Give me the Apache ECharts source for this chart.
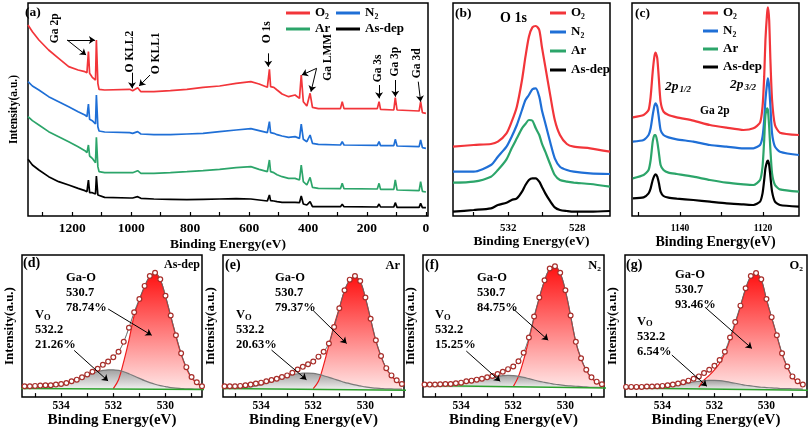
<!DOCTYPE html>
<html><head><meta charset="utf-8">
<script src="https://cdn.jsdelivr.net/npm/echarts@6/dist/echarts.min.js"></script>
<style>html,body{margin:0;padding:0;background:#fff}#c{width:808px;height:429px}</style>
</head><body><div id="c"></div>
<script>
// ---------- DATA ----------
const sampleNames = ['O₂','N₂','Ar','As-dep'];
// (a) survey spectra
const surveyBE = [1350,1335,1313,1280,1246,1212,1180,1157,1150,1145,1141,1132,1126,1121,1118,1113,1109,1090,1005,1000,995,978,967,923,867,811,756,700,644,594,566,538,531,527,516,505,488,466,444,429,423,416,404,393,385,365,290,284,278,165,159,154,109,104,98,23,18,12,0];
const surveyO2 = [573,553,528,498,473,448,438,433,430,493,428,416,416,408,528,398,380,378,380,386,376,385,373,373,376,380,386,390,398,403,396,386,440,388,386,378,366,358,363,353,423,343,330,368,326,322,322,343,322,322,343,320,318,355,318,315,343,310,308];
const surveyN2 = [403,390,378,358,343,328,313,303,298,336,290,286,283,276,363,268,255,252,250,252,248,253,246,244,244,246,248,253,258,262,256,250,283,250,248,244,240,236,238,233,276,230,223,243,218,215,213,223,213,212,223,211,211,230,210,208,228,205,203];
const surveyAr = [298,286,273,253,238,223,208,196,190,213,180,173,168,160,236,148,133,130,130,133,130,136,128,128,130,133,136,140,145,148,140,133,168,133,130,124,118,113,113,108,153,103,93,116,86,83,82,98,82,81,98,80,80,108,78,76,103,74,72];
const surveyAsDep = [170,153,138,118,103,93,83,76,73,108,70,70,68,66,120,63,58,56,54,56,54,58,53,51,50,49,50,51,52,51,48,45,63,46,45,43,41,41,41,40,60,36,33,43,28,28,28,35,28,27,36,27,27,40,26,26,38,25,25];
const surveyTicks = [0,100,200,300,400,500,600,700,800,900,1000,1100,1200,1300];
const surveyLabels = [0,200,400,600,800,1000,1200];
// (b) O 1s
const o1sBE = [535.2,534.0,533.0,532.6,532.1,531.8,531.5,531.2,531.0,530.8,530.6,530.4,530.2,530.05,529.85,529.55,529.3,529.0,528.6,528.2,527.25,526.1];
const o1sO2 = [208,213,216,223,248,283,328,408,478,538,566,570,558,508,448,358,288,243,216,208,203,193];
const o1sN2 = [133,133,153,178,208,238,273,318,348,363,380,383,358,318,278,218,173,148,138,133,128,126];
const o1sAr = [100,103,118,138,170,203,233,263,276,288,286,263,243,218,193,153,123,108,103,100,96,88];
const o1sAsDep = [13,18,23,33,40,48,53,73,93,108,113,113,103,88,68,43,26,18,15,13,13,15];
const o1sTicks = [528,530,532,534];
const o1sLabels = [528,532];
// (c) Ga 2p
const ga2pBE = [1151.4,1148.8,1147.6,1147.1,1146.6,1146.2,1145.9,1145.5,1145.1,1144.7,1144.0,1142.8,1140.8,1136.8,1132.8,1128.8,1124.7,1122.3,1120.7,1120.1,1119.7,1119.4,1119.0,1118.8,1118.5,1118.2,1117.8,1117.1,1115.9,1111.3];
const ga2pO2 = [296,303,318,358,433,478,490,473,408,343,313,303,296,286,273,265,258,263,280,328,418,528,608,626,588,468,348,273,250,243];
const ga2pN2 = [223,228,243,263,303,330,338,328,293,258,243,236,230,223,213,208,203,203,213,238,288,348,398,413,388,328,248,208,193,183];
const ga2pAr = [113,123,138,168,223,243,243,223,188,153,138,130,126,118,108,100,95,93,108,148,228,303,323,318,268,198,128,93,80,73];
const ga2pAsDep = [53,56,68,83,108,121,125,118,98,73,60,55,52,48,43,38,35,33,43,68,108,143,163,166,153,118,73,43,33,28];
const ga2pTicks = [1120,1130,1140,1150];
const ga2pLabels = [1120,1140];
// (d)-(g) O 1s fits
const fitBE = [535.4,535.2,535.0,534.8,534.6,534.4,534.2,534.0,533.8,533.6,533.4,533.2,533.0,532.8,532.6,532.4,532.2,532.0,531.8,531.6,531.4,531.2,531.0,530.8,530.6,530.4,530.2,530.0,529.8,529.6,529.4,529.2,529.0,528.8,528.6];
const rawAsDep = [33,33,34,35,36,36,38,40,43,48,53,60,69,77,86,98,108,121,138,168,211,258,298,338,368,378,358,308,248,188,133,91,61,45,33];
const voAsDep  = [26,27,27,27,29,31,33,37,41,47,53,59,66,72,77,81,83,83,81,77,71,64,57,50,44,39,35,32,29,27,26,25,25,24,24];
const gaoAsDep = [null,null,null,null,null,null,null,null,null,null,null,null,null,null,null,null,null,26,53,108,173,248,295,335,365,375,356,305,245,185,130,88,58,43,32];
const rawAr = [33,33,33,34,36,38,41,44,48,52,56,61,66,74,84,92,100,108,123,138,163,213,270,325,357,368,353,303,238,173,125,88,66,51,40];
const voAr  = [26,27,27,28,29,31,34,38,42,47,53,58,64,68,71,73,73,72,69,65,60,55,50,45,41,37,34,31,29,27,26,25,25,24,24];
const gaoAr = [null,null,null,null,null,null,null,null,null,null,null,null,null,null,null,null,null,26,48,98,158,218,270,323,355,365,351,301,236,171,123,86,64,49,38];
const rawN2 = [38,38,38,39,40,40,42,44,48,50,53,56,60,64,70,77,85,93,109,135,181,245,303,355,391,398,378,325,248,168,118,83,60,47,39];
const voN2  = [34,34,34,35,35,36,38,41,44,47,51,55,58,61,63,65,66,65,63,60,56,52,48,45,42,39,37,35,34,33,32,31,30,30,29];
const gaoN2 = [null,null,null,null,null,null,null,null,null,null,null,null,null,null,null,null,null,32,63,113,175,241,301,353,389,396,376,323,246,166,116,81,58,45,37];
const rawO2 = [31,31,31,31,32,32,33,34,36,38,41,45,50,56,63,73,83,95,113,138,181,228,278,331,368,377,358,298,243,188,133,93,63,48,38];
const voO2  = [28,28,28,28,28,28,28,29,31,33,36,39,43,46,48,50,51,51,50,48,45,42,39,36,34,32,30,29,28,27,26,26,25,25,24];
const gaoO2 = [null,null,null,null,null,null,null,null,null,null,null,null,null,null,30,52,66,83,103,133,175,223,275,328,365,375,356,296,241,186,131,91,61,46,36];
const bgBE = [535.6,528.4];
const bgAsDep = [26,23], bgAr = [26,21], bgN2 = [35,28], bgO2 = [28,21];
const fitTicks = [529,530,531,532,533,534,535];
const fitLabels = [530,532,534];
const gaoPct = ['78.74%','79.37%','84.75%','93.46%'];
const voPct = ['21.26%','20.63%','15.25%','6.54%'];

// ---------- CHART ----------
const FONT = 'Liberation Serif';
const colors = ['#f2353a','#1f6fd6','#2ca56a','#000000'];
function pairs(xs, ys){ const o=[]; for(let i=0;i<xs.length;i++){ if(ys[i]!==null && ys[i]!==undefined) o.push([xs[i], ys[i]]); } return o; }
const bold = (fs) => ({fontFamily:FONT, fontWeight:'bold', fontSize:fs, color:'#000'});

const gridBoxes = [
  {left:22, top:3, width:406, height:213},
  {left:453, top:3, width:157, height:213},
  {left:632, top:3, width:167, height:213},
  {left:22, top:255, width:180, height:144},
  {left:223, top:255, width:181, height:144},
  {left:423, top:255, width:181, height:144},
  {left:625, top:255, width:182, height:144}
];
const grid = gridBoxes.map(g => Object.assign({show:true, borderColor:'#000', borderWidth:1.5, backgroundColor:'#fff', containLabel:false}, g));

function xAx(i, min, max, ticks, labels, fs, margin, gap, nfs){
  return {gridIndex:i, type:'value', inverse:true, min:min, max:max,
    axisLine:{show:false}, splitLine:{show:false},
    axisTick:{show:true, inside:true, length:4, customValues:ticks, lineStyle:{color:'#000', width:1.2}},
    axisLabel:{show:true, customValues:labels, margin:margin, formatter:(v) => String(v), ...bold(fs)},
    name:'Binding Energy(eV)', nameLocation:'middle', nameGap:gap, nameTextStyle:bold(nfs)};
}
function yAx(i, max, name, gap, fs){
  return {gridIndex:i, type:'value', min:0, max:max,
    axisLine:{show:false}, axisTick:{show:false}, axisLabel:{show:false}, splitLine:{show:false},
    name:name||'', nameLocation:'middle', nameRotate:90, nameGap:gap||0, nameTextStyle:bold(fs||12)};
}
const xAxis = [
  xAx(0, -7, 1350, surveyTicks, surveyLabels, 13.5, 6, 22, 13.5),
  xAx(1, 526.1, 535.2, o1sTicks, o1sLabels, 11, 7, 19, 13.5),
  xAx(2, 1111.3, 1151.6, ga2pTicks, ga2pLabels, 9.5, 8, 19, 14),
  xAx(3, 528.6, 535.5, fitTicks, fitLabels, 11.5, 3, 13, 15),
  xAx(4, 528.52, 535.46, fitTicks, fitLabels, 11.5, 3, 13, 15),
  xAx(5, 528.52, 535.46, fitTicks, fitLabels, 11.5, 3, 13, 15),
  xAx(6, 528.44, 535.44, fitTicks, fitLabels, 11.5, 3, 13, 15)
];
const yAxis = [
  yAx(0, 639, 'Intensity(a.u.)', 8, 11.5),
  yAx(1, 639), yAx(2, 639),
  yAx(3, 432, 'Intensity(a.u.)', 6, 13),
  yAx(4, 432, 'Intensity(a.u.)', 6, 13),
  yAx(5, 432, 'Intensity(a.u.)', 6, 13),
  yAx(6, 432, 'Intensity(a.u.)', 6, 13)
];

const series = [];
const arrowLine = (pairsList) => ({silent:true, symbol:['none','arrow'], symbolSize:6, animation:false,
  lineStyle:{color:'#000', width:1, type:'solid'}, label:{show:false}, emphasis:{disabled:true},
  data: pairsList.map(p => [{coord:p[0]},{coord:p[1]}])});

// (a)
const surveySets = [surveyO2, surveyN2, surveyAr, surveyAsDep];
surveySets.forEach((ys,k) => {
  const s = {name:sampleNames[k], type:'line', xAxisIndex:0, yAxisIndex:0, data:pairs(surveyBE, ys),
    showSymbol:false, symbol:'none', lineStyle:{color:colors[k], width:1.7}, itemStyle:{color:colors[k]}, z:3};
  if(k===0){
    s.markLine = arrowLine([
      [[1217,528],[1153,483]], [[1217,528],[1123,528]],
      [[997,430],[997,383]], [[936,423],[973,390]],
      [[535,488],[535,448]],
      [[371,443],[421,423]], [[371,443],[390,373]],
      [[159,393],[159,353]], [[104,408],[104,358]], [[26,403],[18,343]]
    ]);
    const ann = [['Ga 2p',1257,563],['O KLL2',1003,493],['O KLL1',914,488],['O 1s',538,551],['Ga LMM',332,476],['Ga 3s',163,443],['Ga 3p',104,463],['Ga 3d',31,458]];
    s.markPoint = {silent:true, symbol:'circle', symbolSize:1, itemStyle:{color:'rgba(0,0,0,0)'}, animation:false,
      data: ann.map(a => ({coord:[a[1],a[2]], label:{show:true, position:'inside', rotate:90, formatter:a[0], ...bold(11.5)}}))};
  }
  series.push(s);
});
// (b)
[o1sO2, o1sN2, o1sAr, o1sAsDep].forEach((ys,k) => series.push({name:sampleNames[k], type:'line', xAxisIndex:1, yAxisIndex:1,
  data:pairs(o1sBE, ys), smooth:0.25, showSymbol:false, symbol:'none', lineStyle:{color:colors[k], width:2.2}, itemStyle:{color:colors[k]}}));
// (c)
[ga2pO2, ga2pN2, ga2pAr, ga2pAsDep].forEach((ys,k) => series.push({name:sampleNames[k], type:'line', xAxisIndex:2, yAxisIndex:2,
  data:pairs(ga2pBE, ys), smooth:0.2, showSymbol:false, symbol:'none', lineStyle:{color:colors[k], width:2.2}, itemStyle:{color:colors[k]}}));
// (d)-(g)
const fitPanels = [
  {raw:rawAsDep, gao:gaoAsDep, vo:voAsDep, bg:bgAsDep, arrows:[[[532.2,268],[530.53,188]],[[533.5,142],[532.2,49]]]},
  {raw:rawAr, gao:gaoAr, vo:voAr, bg:bgAr, arrows:[[[532.0,263],[530.72,163]],[[533.6,143],[532.26,53]]]},
  {raw:rawN2, gao:gaoN2, vo:voN2, bg:bgN2, arrows:[[[532.0,268],[530.66,173]],[[533.8,140],[532.5,48]]]},
  {raw:rawO2, gao:gaoO2, vo:voO2, bg:bgO2, arrows:[[[532.36,273],[530.56,148]],[[533.64,128],[532.29,33]]]}
];
fitPanels.forEach((p,k) => {
  const ax = 3 + k;
  const base = Math.min(p.bg[0], p.bg[1]);
  series.push({type:'line', xAxisIndex:ax, yAxisIndex:ax, data:pairs(fitBE, p.gao), smooth:0.35, showSymbol:false, symbol:'none',
    lineStyle:{color:'#f01c1c', width:1.2},
    areaStyle:{origin:base, opacity:1, color:new echarts.graphic.LinearGradient(0,0,0,1,[{offset:0,color:'#ff1212'},{offset:1,color:'#ffe6e6'}])},
    markLine: arrowLine(p.arrows), z:2});
  series.push({type:'line', xAxisIndex:ax, yAxisIndex:ax, data:pairs(fitBE, p.vo), smooth:0.35, showSymbol:false, symbol:'none',
    lineStyle:{color:'#7a7a7a', width:1.2},
    areaStyle:{origin:base, opacity:0.95, color:new echarts.graphic.LinearGradient(0,0,0,1,[{offset:0,color:'#9c9c9c'},{offset:1,color:'#f2f2f2'}])}, z:2});
  series.push({type:'line', xAxisIndex:ax, yAxisIndex:ax, data:pairs(bgBE, p.bg), showSymbol:false, symbol:'none',
    lineStyle:{color:'#2ca02c', width:1.5}, z:3});
  series.push({type:'line', xAxisIndex:ax, yAxisIndex:ax, data:pairs(fitBE, p.raw), smooth:0.35, showSymbol:false, symbol:'none',
    lineStyle:{color:'#666', width:1}, z:3});
  series.push({type:'scatter', xAxisIndex:ax, yAxisIndex:ax, data:pairs(fitBE, p.raw), symbol:'circle', symbolSize:4.8,
    itemStyle:{color:'#fff', borderColor:'#a82e2a', borderWidth:1.2, opacity:1}, z:4});
});

// legends
const lg = (names, left, top, opts) => Object.assign({data:names, left:left, top:top, padding:0, icon:'rect', itemWidth:24, itemHeight:3,
  itemGap:6, selectedMode:false, textStyle:Object.assign(bold(13), {lineHeight:13})}, opts||{});
const legend = [
  lg(['O₂'], 286, 6.5), lg(['N₂'], 336, 6.5), lg(['Ar'], 286, 22.5), lg(['As-dep'], 336, 22.5),
  lg(sampleNames, 550, 6.5, {orient:'vertical', itemWidth:16, itemGap:6}),
  lg(sampleNames, 703, 6.5, {orient:'vertical', itemWidth:15, itemGap:5})
];

// text annotations
const T = (text, left, top, fs, extra) => Object.assign({text:text, left:left, top:top, padding:0, textStyle:Object.assign(bold(fs), extra||{})});
const sub = (fs) => ({fontFamily:FONT, fontWeight:'bold', color:'#000', fontSize:fs});
const VO = (pct, left, top) => ({text:'{v|V}{s|O}\n{n|532.2}\n{n|'+pct+'}', left:left, top:top, padding:0,
  textStyle:{rich:{v:Object.assign(sub(12.5),{lineHeight:15}), s:Object.assign(sub(8.5),{lineHeight:15, padding:[5,0,0,0]}), n:Object.assign(sub(12.5),{lineHeight:15})}}});
const P = (sup, left, top) => ({text:'{i|2p}{s|'+sup+'}', left:left, top:top, padding:0,
  textStyle:{rich:{i:{fontFamily:FONT, fontStyle:'italic', fontSize:13.5, color:'#000', lineHeight:15}, s:{fontFamily:FONT, fontStyle:'italic', fontSize:9, color:'#000', lineHeight:15, padding:[6,0,0,1]}}}});
const title = [
  T('(a)', 25, 6, 13.5), T('(b)', 455, 7, 13.5), T('O 1s', 500, 11, 14), T('(c)', 635, 7, 13.5),
  P('1/2', 665, 79), P('3/2', 730, 77), T('Ga 2p', 700, 105, 11.5),
  T('(d)', 23, 256, 14),
  T('(e)', 225, 258, 14), T('(f)', 425, 258, 14), T('(g)', 626, 258, 14),
  T('Ga-O\n530.7\n'+gaoPct[0], 66, 270.5, 12.5, {lineHeight:15}), VO(voPct[0], 35, 307.5),
  T('Ga-O\n530.7\n'+gaoPct[1], 275, 270.5, 12.5, {lineHeight:15}), VO(voPct[1], 236, 307.5),
  T('Ga-O\n530.7\n'+gaoPct[2], 477, 270.5, 12.5, {lineHeight:15}), VO(voPct[2], 435, 307.5),
  T('Ga-O\n530.7\n'+gaoPct[3], 675, 267.5, 12.5, {lineHeight:15}), VO(voPct[3], 637, 314),
  {text:'As-dep', right:808-200, top:259, padding:0, textStyle:bold(12)},
  {text:'Ar', right:808-400, top:259, padding:0, textStyle:bold(12.5)},
  {text:'N₂', right:808-601, top:259, padding:0, textStyle:bold(12.5)},
  {text:'O₂', right:808-803, top:259, padding:0, textStyle:bold(12.5)}
];

const chart = echarts.init(document.getElementById('c'), null, {renderer:'canvas', width:808, height:429});
chart.setOption({animation:false, backgroundColor:'#fff', grid:grid, xAxis:xAxis, yAxis:yAxis, legend:legend, title:title, series:series});
</script></body></html>
